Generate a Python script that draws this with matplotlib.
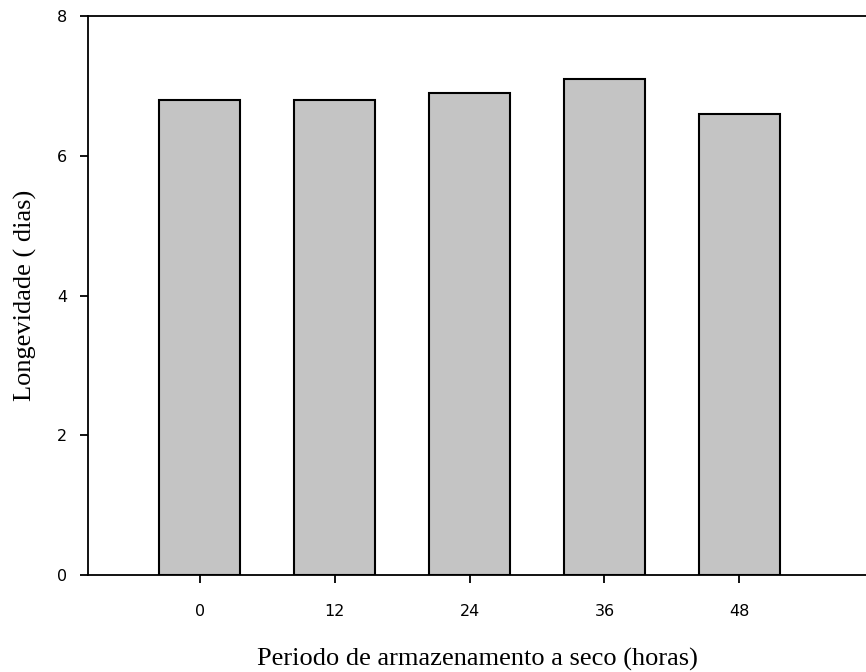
import matplotlib
matplotlib.use('Agg')
import matplotlib.pyplot as plt
import numpy as np

# Longevidade média por período de armazenamento a seco
periodos = ['0', '12', '24', '36', '48']
longevidade = [6.8, 6.8, 6.9, 7.1, 6.6]
y_ticks = [0, 2, 4, 6, 8]

fig = plt.figure(figsize=(8.66, 6.72), dpi=100)
ax = fig.add_axes([88 / 866, 1 - 575 / 672, 1 - 88 / 866, (575 - 16) / 672])

x = np.arange(len(periodos))
ax.bar(x, longevidade, width=0.6, color='#c4c4c4', edgecolor='black', linewidth=1.5)

ax.set_xlim(-0.83, 4.94)
ax.set_ylim(0, 8)
ax.set_xticks(x)
ax.set_xticklabels(periodos)
ax.set_yticks(y_ticks)
ax.tick_params(direction='out', length=6, width=1.3, labelsize=11.5)
ax.tick_params(axis='y', pad=9)
ax.tick_params(axis='x', pad=15)
ax.spines['right'].set_visible(False)
for s in ['left', 'bottom', 'top']:
    ax.spines[s].set_linewidth(1.3)

serif = {'family': 'Liberation Serif', 'size': 19}
ax.set_xlabel('Periodo de armazenamento a seco (horas)', fontdict=serif, labelpad=21)
ax.set_ylabel('Longevidade ( dias)', fontdict=serif, labelpad=14)

fig.savefig('out.png', dpi=100)
